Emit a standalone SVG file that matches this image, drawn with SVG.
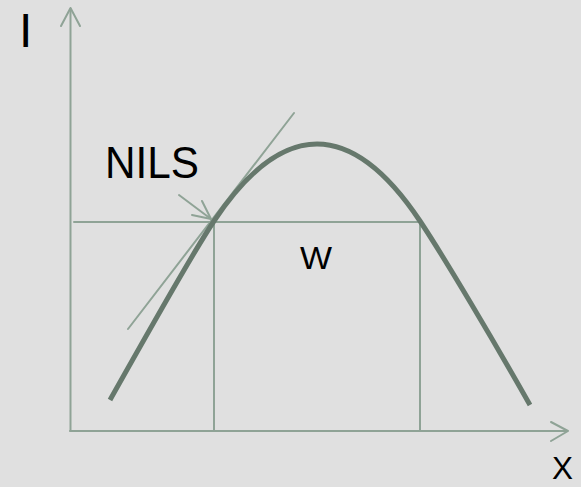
<svg xmlns="http://www.w3.org/2000/svg" width="581" height="487" viewBox="0 0 581 487">
<style>
.thin{fill:none;stroke:#8fa396;stroke-width:2;stroke-linecap:round;stroke-linejoin:round}
.curve{fill:none;stroke:#66786c;stroke-width:5}
.lbl{font-family:"Liberation Sans",Arial,sans-serif;fill:#000}
</style>
<rect x="0" y="0" width="581" height="487" fill="#e0e0e0"/>
<g id="connectors">
<path class="thin" d="M70.5,431 V9"/>
<path class="thin" d="M61,26 L70.5,8 L80,26"/>
<path class="thin" d="M70,431 H567"/>
<path class="thin" d="M551,422 L568,431 L551,441"/>
<path class="thin" d="M74,222 H420"/>
<path class="thin" d="M214,222 V431"/>
<path class="thin" d="M420,222 V431"/>
<path class="thin" d="M128,329 L294,113"/>
<path class="thin" d="M179,195 L211,219"/>
<path class="thin" d="M202,201 L211,219 L192,215"/>
</g>
<g id="curve">
<path class="curve" d="M110,400 C145,338 190,257 214,221 C248.7,169 283,144 317,144 C351,144 385.3,169 420,221 C444,257 495,343 530,405"/>
</g>
<g id="label-I"><text class="lbl" x="19" y="47" font-size="48">I</text></g>
<g id="label-NILS"><text class="lbl" x="105" y="178" font-size="45" textLength="94" lengthAdjust="spacingAndGlyphs">NILS</text></g>
<g id="label-W"><text class="lbl" x="300" y="269" font-size="32" textLength="32" lengthAdjust="spacingAndGlyphs">W</text></g>
<g id="label-X"><text class="lbl" x="552" y="479" font-size="31" textLength="21" lengthAdjust="spacingAndGlyphs">X</text></g>
</svg>
